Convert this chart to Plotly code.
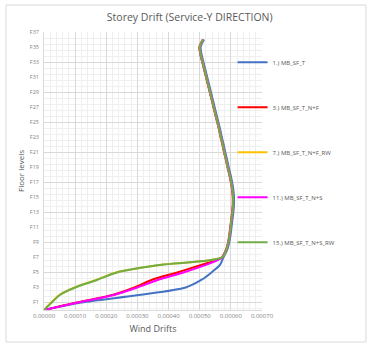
import plotly.graph_objects as go

# Floor index (0 = base, 36 = roof)
floors = list(range(37))

# Storey drift per series, floor 0 .. 36
mb_sf_t = [0.0, 0.000120, 0.000305, 0.000455, 0.000505, 0.000538, 0.000565, 0.000576,
           0.000588, 0.000595, 0.000599, 0.000602, 0.000605, 0.000608, 0.000610, 0.000610,
           0.000608, 0.000604, 0.000599, 0.000593, 0.000588, 0.000582, 0.000577, 0.000571,
           0.000566, 0.000560, 0.000554, 0.000548, 0.000542, 0.000536, 0.000530, 0.000524,
           0.000518, 0.000512, 0.000506, 0.000503, 0.000514]
mb_sf_t_nf = [0.0, 0.000105, 0.000220, 0.000290, 0.000345, 0.000428, 0.000505, 0.000571,
              0.000584, 0.000591, 0.000595, 0.000598, 0.000601, 0.000604, 0.000606, 0.000606,
              0.000604, 0.000600, 0.000595, 0.000589, 0.000584, 0.000578, 0.000573, 0.000567,
              0.000562, 0.000556, 0.000550, 0.000544, 0.000538, 0.000532, 0.000526, 0.000520,
              0.000514, 0.000508, 0.000502, 0.000499, 0.000510]
mb_sf_t_nf_rw = [0.0, 0.000023, 0.000049, 0.000098, 0.000167, 0.000231, 0.000370, 0.000571,
                 0.000585, 0.000592, 0.000596, 0.000599, 0.000602, 0.000605, 0.000607, 0.000607,
                 0.000605, 0.000601, 0.000596, 0.000590, 0.000585, 0.000579, 0.000574, 0.000568,
                 0.000563, 0.000557, 0.000551, 0.000545, 0.000539, 0.000533, 0.000527, 0.000521,
                 0.000515, 0.000509, 0.000503, 0.000500, 0.000511]
mb_sf_t_ns = [0.0, 0.000108, 0.000225, 0.000300, 0.000365, 0.000448, 0.000520, 0.000571,
              0.000585, 0.000592, 0.000596, 0.000599, 0.000602, 0.000605, 0.000607, 0.000607,
              0.000605, 0.000601, 0.000596, 0.000590, 0.000585, 0.000579, 0.000574, 0.000568,
              0.000563, 0.000557, 0.000551, 0.000545, 0.000539, 0.000533, 0.000527, 0.000521,
              0.000515, 0.000509, 0.000503, 0.000500, 0.000511]
mb_sf_t_ns_rw = [0.0, 0.000025, 0.000051, 0.000100, 0.000170, 0.000234, 0.000373, 0.000571,
                 0.000585, 0.000592, 0.000596, 0.000599, 0.000602, 0.000605, 0.000607, 0.000607,
                 0.000605, 0.000601, 0.000596, 0.000590, 0.000585, 0.000579, 0.000574, 0.000568,
                 0.000563, 0.000557, 0.000551, 0.000545, 0.000539, 0.000533, 0.000527, 0.000521,
                 0.000515, 0.000509, 0.000503, 0.000500, 0.000511]

series_names = ["1.) MB_SF_T", "3.) MB_SF_T_N+F", "7.) MB_SF_T_N+F_RW",
                "11.) MB_SF_T_N+S", "15.) MB_SF_T_N+S_RW"]
series_colors = ["#4472C4", "#FF0000", "#FFC000", "#FF00FF", "#70AD47"]
series_values = [mb_sf_t, mb_sf_t_nf, mb_sf_t_nf_rw, mb_sf_t_ns, mb_sf_t_ns_rw]

# Floor labels shown on the vertical axis
floor_tick_vals = list(range(1, 38, 2))
floor_tick_text = ["F%d" % v for v in floor_tick_vals]

x_tick_vals = [0.0, 0.0001, 0.0002, 0.0003, 0.0004, 0.0005, 0.0006, 0.0007]

FONT = "Open Sans"
GREY = "#595959"

fig = go.Figure()
for name, color, vals in zip(series_names, series_colors, series_values):
    fig.add_trace(go.Scatter(
        x=vals, y=floors, name=name, mode="lines",
        line=dict(color=color, width=2, shape="spline", smoothing=0.8),
        legendgroup=name,
    ))

# label-only axis sharing the floor scale
fig.add_trace(go.Scatter(x=[None], y=[None], yaxis="y2", showlegend=False,
                         hoverinfo="skip"))

fig.update_layout(
    width=372, height=345,
    margin=dict(l=44, r=110, t=32, b=35),
    paper_bgcolor="white", plot_bgcolor="white",
    font=dict(family=FONT, color=GREY),
    title=dict(text="Storey Drift (Service-Y DIRECTION)", x=0.51, xanchor="center",
               y=0.95, yanchor="middle", font=dict(size=10.5, color=GREY, family=FONT)),
    xaxis=dict(
        range=[0, 0.0007], tickvals=x_tick_vals, tickformat=".5f",
        tickfont=dict(size=6, color="#7f7f7f"),
        showgrid=True, gridcolor="#d9d9d9", gridwidth=1,
        minor=dict(dtick=0.00002, showgrid=True, gridcolor="#efefef", gridwidth=1),
        zeroline=False, showline=True, linecolor="#d9d9d9", ticks="",
        title=dict(text="Wind Drifts", font=dict(size=9, color=GREY), standoff=6),
    ),
    yaxis=dict(
        range=[0, 37], tick0=1, dtick=4, showticklabels=False,
        showgrid=True, gridcolor="#d9d9d9", gridwidth=1,
        minor=dict(tick0=1, dtick=0.8, showgrid=True, gridcolor="#efefef", gridwidth=1),
        zeroline=False, showline=True, linecolor="#d9d9d9", ticks="",
        mirror=False,
    ),
    yaxis2=dict(
        range=[0, 37], overlaying="y", side="left", anchor="x",
        tickvals=floor_tick_vals, ticktext=floor_tick_text,
        tickfont=dict(size=5.5, color="#7f7f7f"), showgrid=False, zeroline=False,
        ticks="", ticklabelstandoff=4,
        title=dict(text="Floor levels", font=dict(size=8, color=GREY), standoff=4),
    ),
    legend=dict(
        x=0.865, xanchor="left", y=0.943, yanchor="top",
        font=dict(size=6, color=GREY, family=FONT),
        bgcolor="rgba(0,0,0,0)", tracegroupgap=26, itemwidth=30,
    ),
    shapes=[dict(type="rect", xref="paper", yref="paper",
                 x0=-38 / 218, x1=322 / 218, y0=-32 / 278, y1=305 / 278,
                 line=dict(color="#d9d9d9", width=1), fillcolor="rgba(0,0,0,0)",
                 layer="below")],
)

fig.write_html("out.html")
